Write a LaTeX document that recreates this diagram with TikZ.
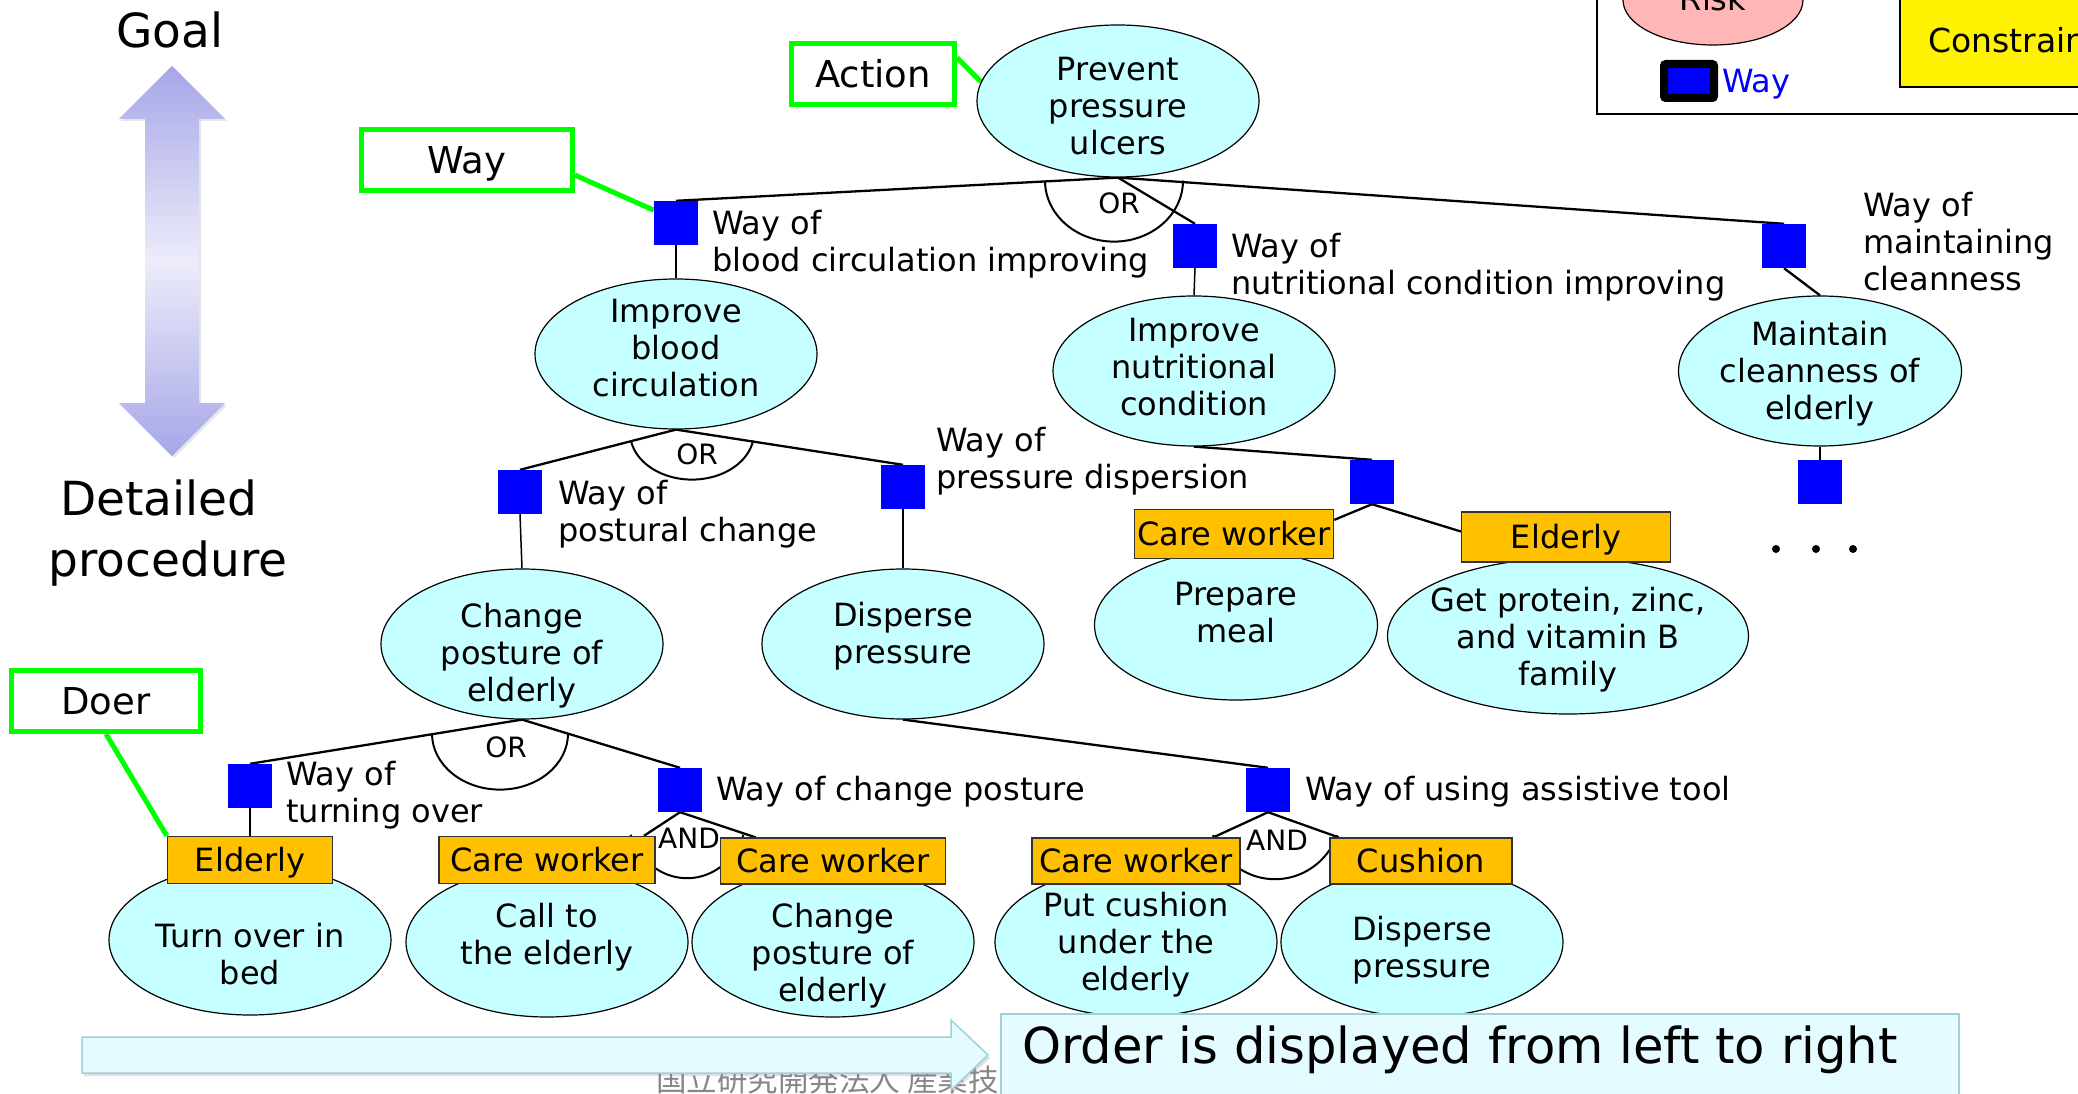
\documentclass[tikz,border=0pt]{standalone}
\usepackage{fontspec}
\setmainfont{DejaVu Sans}
\newfontfamily\cjkfont{Noto Sans CJK JP}
\usetikzlibrary{shapes.geometric,calc,shadows}
\pgfdeclarelayer{bg}
\pgfsetlayers{bg,main}
\definecolor{goalcy}{RGB}{198,255,255}
\definecolor{doerorange}{RGB}{255,192,0}
\definecolor{greenlbl}{RGB}{0,255,0}
\definecolor{riskpink}{RGB}{255,182,182}
\definecolor{arrowlav}{RGB}{166,166,232}
\definecolor{arrowlight}{RGB}{236,236,250}
\definecolor{bararrow}{RGB}{228,252,255}
\definecolor{barborder}{RGB}{160,208,216}
\definecolor{jpgray}{RGB}{135,135,135}
\newcommand\etx[2]{\raisebox{#1}[\height][\depth]{\begin{tabular}{@{}c@{}}#2\end{tabular}}}
\newcommand\ltx[1]{\begin{tabular}[t]{@{}l@{}}#1\end{tabular}}
\tikzset{
 goalnode/.style={ellipse, draw=black, line width=1.2pt, fill=goalcy, minimum width=282pt, minimum height=150pt, inner sep=-25pt, font=\fontsize{32}{37}\selectfont},
 waysq/.style={rectangle, fill=blue, minimum size=44pt, inner sep=0pt},
 doerbox/.style={rectangle, draw=black!80, line width=1.3pt, fill=doerorange, inner sep=0pt, text height=28pt, text depth=5pt, font=\fontsize{32}{37}\selectfont},
 tagbox/.style={rectangle, draw=greenlbl, line width=5pt, fill=white, inner sep=0pt, minimum height=61pt, text height=32pt, text depth=5pt, font=\fontsize{37}{44}\selectfont},
 waylbl/.style={anchor=base west, inner sep=0pt, font=\fontsize{32}{37}\selectfont},
 gatelbl/.style={inner sep=0pt, font=\fontsize{28}{32}\selectfont},
 bigtxt/.style={anchor=base, inner sep=0pt, font=\fontsize{47}{61}\selectfont},
 branch/.style={line width=2.3pt},
 stem/.style={line width=1.5pt},
 gatearc/.style={line width=2pt},
 tagline/.style={draw=greenlbl, line width=5pt},
}
\begin{document}
\begin{tikzpicture}[x=1pt,y=1pt]
\useasboundingbox (0,0) rectangle (2078,-1094);

% ---------- left scale ----------
\node[bigtxt] (goal) at (170,-48) {Goal};
\path[top color=arrowlav, bottom color=arrowlav, middle color=arrowlight,
  drop shadow={opacity=0.2, shadow xshift=2pt, shadow yshift=-2pt}]
  (172,-66) -- (225,-119) -- (199,-119) -- (199,-403) -- (225,-403) -- (172,-456)
  -- (119,-403) -- (145,-403) -- (145,-119) -- (119,-119) -- cycle;
\node[bigtxt] (detail) at (159,-515) {Detailed};
\node[bigtxt] (proc) at (168,-576) {procedure};

% ---------- legend (top right, cut) ----------
\draw[line width=2.5pt] (1597,20) rectangle (2100,-114);
\node[goalnode, fill=riskpink, minimum width=180pt, minimum height=90pt] (risk) at (1713,0) {\etx{-3pt}{Risk}};
\node[rectangle, fill=blue, draw=black, line width=8pt, rounded corners=2pt, minimum width=50pt, minimum height=34pt, inner sep=0pt] (legsq) at (1689,-81) {};
\node[anchor=base west, inner sep=0pt, text=blue, font=\fontsize{32}{37}\selectfont] (legway) at (1722,-93) {Way};
\node[rectangle, draw=black, line width=1.5pt, fill=yellow, anchor=south west, minimum width=220pt, minimum height=120pt] (cons) at (1899,-88) {};
\node[anchor=base west, inner sep=0pt, font=\fontsize{33}{38}\selectfont] (constxt) at (1928,-53) {Constrain};

% ---------- action nodes ----------
\node[goalnode, minimum height=152pt] (prev) at (1118,-101) {\etx{-9pt}{Prevent\\pressure\\ulcers}};
\node[goalnode] (blood) at (676,-354) {\etx{2pt}{Improve\\blood\\circulation}};
\node[goalnode] (nutr) at (1194,-371) {\etx{0pt}{Improve\\nutritional\\condition}};
\node[goalnode, minimum width=283pt] (maint) at (1820,-371) {\etx{-4pt}{Maintain\\cleanness of\\elderly}};
\node[goalnode] (chg) at (522,-644) {\etx{-13pt}{Change\\posture of\\elderly}};
\node[goalnode] (disp) at (903,-644) {\etx{6pt}{Disperse\\pressure}};
\node[goalnode, minimum width=283pt] (meal) at (1236,-625) {\etx{8pt}{Prepare\\meal}};
\node[goalnode, minimum width=361pt, minimum height=156pt] (prot) at (1568,-636) {\etx{-5pt}{Get protein, zinc,\\and vitamin B\\family}};
\node[goalnode] (turn) at (250,-940) {\etx{-19pt}{Turn over in\\bed}};
\node[goalnode] (call) at (547,-942) {\etx{3pt}{Call to\\the elderly}};
\node[goalnode] (chg2) at (833,-942) {\etx{-15pt}{Change\\posture of\\elderly}};
\node[goalnode] (cush) at (1136,-942) {\etx{-4pt}{Put cushion\\under the\\elderly}};
\node[goalnode] (disp2) at (1422,-942) {\etx{-10pt}{Disperse\\pressure}};

% ---------- way squares ----------
\node[waysq] (sa) at (676,-223) {};
\node[waysq] (sb) at (1195,-246) {};
\node[waysq] (sc) at (1784,-246) {};
\node[waysq] (sd) at (1820,-482) {};
\node[waysq] (se) at (520,-492) {};
\node[waysq] (sf) at (903,-487) {};
\node[waysq] (sg) at (1372,-482) {};
\node[waysq] (sh) at (250,-786) {};
\node[waysq] (si) at (680,-790) {};
\node[waysq] (sj) at (1268,-790) {};

% ---------- doer boxes ----------
\node[doerbox, minimum width=199pt, minimum height=49pt] (cwn) at (1234,-534) {Care worker};
\node[doerbox, minimum width=209pt, minimum height=50pt] (eln) at (1566,-537) {Elderly};
\node[doerbox, minimum width=165pt, minimum height=47pt] (elt) at (250,-860) {Elderly};
\node[doerbox, minimum width=216pt, minimum height=47pt] (cwa) at (547,-860) {Care worker};
\node[doerbox, minimum width=225pt, minimum height=46pt] (cwb) at (833,-861) {Care worker};
\node[doerbox, minimum width=208pt, minimum height=46pt] (cwc) at (1136,-861) {Care worker};
\node[doerbox, minimum width=182pt, minimum height=46pt] (cus) at (1421,-861) {Cushion};

% ---------- tag boxes ----------
\node[tagbox, minimum width=163pt] (act) at (873,-74) {Action};
\node[tagbox, minimum width=211pt] (waytag) at (467,-160) {Way};
\node[tagbox, minimum width=189pt] (doer) at (106,-701) {Doer};

% ---------- way labels ----------
\node[waylbl] (la) at (712,-235) {\ltx{Way of\\blood circulation improving}};
\node[waylbl] (lb) at (1231,-258) {\ltx{Way of\\nutritional condition improving}};
\node[waylbl] (lc) at (1863,-217) {\ltx{Way of\\maintaining\\cleanness}};
\node[waylbl] (le) at (558,-504) {\ltx{Way of\\postural change}};
\node[waylbl] (lf) at (936,-451) {\ltx{Way of\\pressure dispersion}};
\node[waylbl] (lh) at (286,-785) {\ltx{Way of\\turning over}};
\node[waylbl] (li) at (716,-800) {Way of change posture};
\node[waylbl] (lj) at (1305,-800) {Way of using assistive tool};

% ---------- gate labels ----------
\node[gatelbl] (or1) at (1119,-203) {OR};
\node[gatelbl] (or2) at (697,-454) {OR};
\node[gatelbl] (or3) at (506,-747) {OR};
\node[gatelbl] (and1) at (689,-838) {AND};
\node[gatelbl] (and2) at (1277,-840) {AND};

% ---------- dots ----------
\fill (1776,-549) circle (4pt);
\fill (1816,-549) circle (4pt);
\fill (1853,-549) circle (4pt);

% ---------- bottom ----------
\node[anchor=base west, inner sep=0pt, text=jpgray, font=\cjkfont\fontsize{30.5}{36}\selectfont] (jp) at (656,-1091) {国立研究開発法人 産業技};
\path[draw=barborder, line width=1.5pt, fill=bararrow,
  drop shadow={opacity=0.25, shadow xshift=2pt, shadow yshift=-3pt}]
  (82,-1037) -- (951,-1037) -- (951,-1020) -- (988,-1055) -- (951,-1090) -- (951,-1073) -- (82,-1073) -- cycle;
\node[rectangle, draw=barborder, line width=1.5pt, fill=bararrow, anchor=north west, minimum width=958pt, minimum height=100pt, inner sep=0pt] (ordbox) at (1000,-1013) {};
\node[anchor=base west, inner sep=0pt, font=\fontsize{49.6}{58}\selectfont] (ordtxt) at (1022,-1063) {Order is displayed from left to right};

% ---------- connectors (behind) ----------
\begin{pgfonlayer}{bg}
\draw[branch] (prev.south) -- (sa.north);
\draw[branch] (prev.south) -- (sb.north);
\draw[branch] (prev.south) -- (sc.north);
\draw[gatearc] ($(prev.south)+(-4,-3)$) ++(180:69pt and 61pt) arc[start angle=180, end angle=360, x radius=69pt, y radius=61pt];
\draw[stem] (sa.south) -- (blood.north);
\draw[stem] (sb.south) -- (nutr.north);
\draw[branch] (sc.south) -- (maint.north);
\draw[stem] (maint.south) -- (sd.north);
\draw[branch] (blood.south) -- (se.north);
\draw[branch] (blood.south) -- (sf.north);
\draw[gatearc] ($(blood.south)+(16,-3)$) ++(190:62pt and 47pt) arc[start angle=190, end angle=350, x radius=62pt, y radius=47pt];
\draw[stem] (se.south) -- (chg.north);
\draw[stem] (sf.south) -- (disp.north);
\draw[branch] (chg.south) -- (sh.north);
\draw[branch] (chg.south) -- (si.north);
\draw[gatearc] ($(chg.south)+(-22,-14)$) ++(180:68pt and 56pt) arc[start angle=180, end angle=360, x radius=68pt, y radius=56pt];
\draw[stem] (sh.south) -- (elt.north);
\draw[branch] (si.south) -- (cwa.14);
\draw[branch] (si.south) -- (cwb.163);
\draw[gatearc] ($(si.south)+(7,0)$) ++(200:60pt and 66pt) arc[start angle=200, end angle=340, x radius=60pt, y radius=66pt];
\draw[branch] (disp.south) -- (sj.north);
\draw[branch] (sj.south) -- (cwc.17);
\draw[branch] (sj.south) -- (cus.164);
\draw[gatearc] ($(sj.south)+(7,0)$) ++(200:66pt and 67pt) arc[start angle=200, end angle=340, x radius=66pt, y radius=67pt];
\draw[branch] (nutr.south) -- (sg.north);
\draw[branch] (sg.south) -- (cwn.8);
\draw[branch] (sg.south) -- (eln.177);
\draw[tagline] (act.11) -- (prev.172);
\draw[tagline] (waytag.-8) -- (sa.150);
\draw[tagline] (doer.south) -- (elt.north west);
\end{pgfonlayer}
\end{tikzpicture}
\end{document}
